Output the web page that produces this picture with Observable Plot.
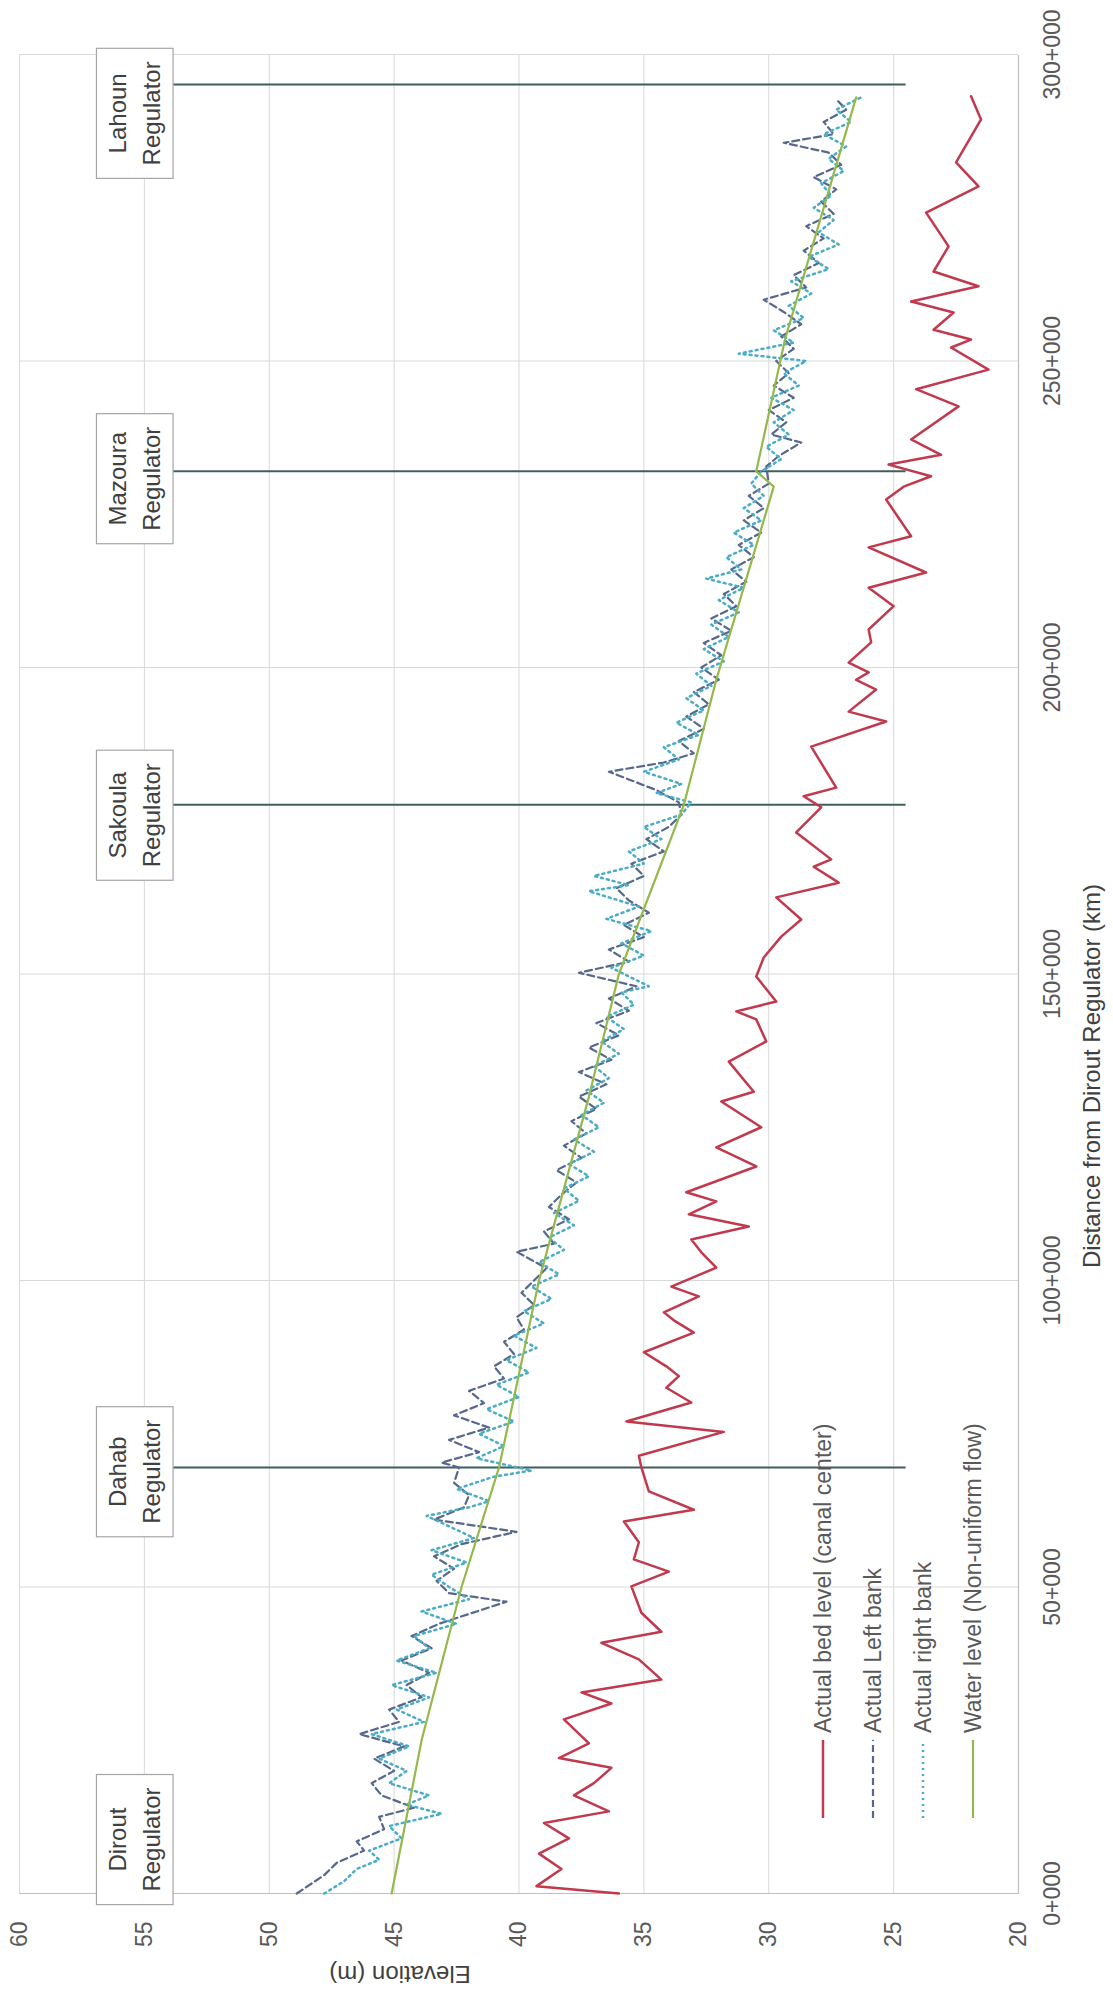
<!DOCTYPE html>
<html><head><meta charset="utf-8">
<script src="https://cdn.jsdelivr.net/npm/d3@7"></script>
<script src="https://cdn.jsdelivr.net/npm/@observablehq/plot@0.6"></script>
<style>
html,body{margin:0;padding:0;background:#fff;}
#wrap{position:relative;width:1113px;height:2002px;overflow:hidden;background:#fff;}
#wrap svg{position:absolute;left:0;top:0;max-width:none !important;width:2002px !important;height:1113px !important;transform-origin:0 0;transform:translate(0px,2002px) rotate(-90deg);}
</style></head><body><div id="wrap"></div>
<script>
// ---------- data ----------
const xTicks = [0, 50, 100, 150, 200, 250, 300];           // km
const yTicks = [20, 25, 30, 35, 40, 45, 50, 55, 60];        // m
const xTitle = "Distance from Dirout Regulator (km)";
const yTitle = "Elevation (m)";
const seriesNames = ["Actual bed level (canal center)", "Actual Left bank", "Actual right bank", "Water level (Non-uniform flow)"];

const regNames = ["Dirout", "Dahab", "Sakoula", "Mazoura", "Lahoun"];
const regKm = [0, 69.5, 177.6, 232, 295.1];
const regLabelKm = [8.8, 68.8, 175.9, 230.8, 290.4];

const bedKm = [0,1.2,4,6.5,9,11.5,13.4,16,18,20.5,22.1,24.5,28.4,31,32.8,34.9,38.2,40.9,42.7,45.8,50.1,52.5,54.5,57.3,60.7,62.6,65.6,69.5,71.4,75.3,77.0,80.1,82.5,84.4,86.0,88.3,91.5,93.5,94.8,97.4,99.0,102.1,104.6,106.7,108.8,110.8,112.9,114.4,118.6,121.7,125.0,129.2,130.8,135.7,139.0,142.6,143.9,145.5,149.6,152.7,156.1,158.9,162.5,164.9,167.5,168.7,173.1,177.2,179.0,180.4,187.1,191.2,192.8,196.4,198.0,199.2,200.8,204.1,206.2,210.0,213.0,215.5,219.6,221.4,227.4,229.5,231.2,233.1,234.7,237.2,242.6,245.4,248.6,252.2,253.5,255.1,257.9,259.7,262.2,264.6,268.7,274.2,278.5,282.4,289.4,293.2];
const bedElev = [36.0,39.3,38.3,39.2,38.0,39.0,36.4,37.8,37.0,36.3,38.4,37.2,38.2,36.3,37.5,34.3,35.2,36.7,34.3,35.1,35.5,34.0,35.4,35.2,35.8,33.0,34.8,35.1,35.2,31.8,35.7,33.1,34.1,33.6,34.1,35.0,33.0,33.8,34.2,32.8,33.9,32.1,32.7,33.1,30.8,33.2,32.1,33.3,30.5,32.1,30.3,31.9,30.6,31.6,30.1,30.5,31.3,29.7,30.5,30.2,29.5,28.7,29.7,27.2,28.2,27.5,28.9,27.9,28.6,27.3,28.3,25.3,26.8,25.7,26.5,26.0,26.8,25.9,26.0,25.0,26.0,23.7,26.0,24.3,25.3,24.6,23.5,25.2,23.1,24.3,22.4,24.1,21.2,22.7,21.9,23.4,22.6,24.3,21.6,23.4,22.8,23.7,21.6,22.5,21.5,21.9];

const leftKm = [0,3,5,7,8.5,10.5,12.5,14,16,18,20,22,24,26,28,30,32,34,36,38,40,42,44,47.6,49,51,53,55,57,59,61,63,65,67,69.5,70.3,72,74,76,78,80,82,84,86,88,90,92,94,96,98,100,102,104.7,106,108,110,112,114,116,118,120,122,124,126,128,130,132,134,136,138,140,142,144,146,148,150.2,152,154,156,158,160,162,164,166,168,170,172,174,176,178,180,183,184.5,186,188,190,192,194,196,198,200,202,204,206,208,210,212,214,216,218,220,222,224,226,228,230,232.8,234.5,236.7,238,240,242,244,246,248,250,252,254,256,258,260,262,264,266,268,270,272,274,276,278,280,282,284,285.6,287,289,291,292.7];
const leftElev = [48.9,47.8,47.3,46.2,46.5,45.4,45.6,44.2,45.5,45.9,45.0,45.8,44.6,46.4,44.8,45.2,43.9,44.5,43.6,44.7,43.5,44.3,43.2,40.5,42.8,43.3,42.6,43.4,42.3,40.1,43.4,42.2,42.0,42.6,42.4,43.1,41.6,42.8,41.2,42.6,41.4,42.0,40.6,41.0,40.2,40.6,39.8,40.1,39.4,39.9,39.4,38.9,40.1,38.6,39.0,38.0,38.8,38.3,37.7,38.5,37.5,38.2,37.3,37.9,36.9,37.6,36.5,37.6,36.3,37.2,36.0,36.9,35.6,36.4,35.3,37.6,35.6,36.4,35.0,35.8,34.8,35.6,36.1,35.0,35.5,34.2,34.9,34.0,33.5,33.6,34.5,36.4,34.2,33.0,33.6,32.6,33.3,32.4,33.0,32.0,32.7,31.9,32.6,31.5,32.3,31.3,31.8,30.9,31.5,30.6,31.2,30.3,31.0,30.2,30.8,30.0,30.1,29.6,28.7,29.9,29.3,30.0,29.0,29.8,29.2,29.7,29.0,29.5,28.7,29.4,30.2,28.5,29.0,28.0,28.6,27.8,28.5,27.4,27.9,27.3,28.2,27.1,27.6,29.4,27.4,27.8,26.9,27.3];

const rightKm = [0,2,4,5.5,7,9,11,13,14.5,16,18,20,22,24,26,28,30,32,34,36,38,40,42,44,46,48,50,52,54,56,58,61.6,63,64,66,68,69,71,73,75,77,79,81,83,85,87,89,91,93,95,97,99,101,103,105,107,109,111,113,115,117,119,121,123,125,127,129,131,133,135,137,139,141,143,145,147,148,151,153,155,157,159,161,163.5,164.5,166,168,170,172,174,176,178,179.5,181,183,185,187,189,191,193,195,197,199,201,203,205,207,209,211,213,214.5,216,218,220,222,224,226,228,230,232,234,236,238,240,242,244,246,248,250,251.2,253,255,257,259,261,263,265,267,269,271,273,275,277,279,281,283,285,287,289,291,293];
const rightElev = [47.8,47.0,46.5,45.6,46.0,44.7,45.2,43.1,44.5,43.6,45.2,44.5,45.6,44.4,45.9,43.8,44.9,43.6,45.1,43.3,44.9,43.6,44.2,42.5,43.9,42.0,42.8,43.5,42.1,43.5,41.8,43.7,42.0,41.2,42.5,41.0,39.5,41.7,40.6,41.6,40.2,41.3,40.0,40.9,39.6,40.5,39.3,40.2,39.0,39.8,38.7,39.5,38.4,39.2,38.2,38.8,37.8,38.6,37.6,38.2,37.2,38.0,37.0,37.8,36.8,37.5,36.6,37.3,36.4,37.0,36.0,36.7,35.8,36.5,35.4,35.9,34.8,36.3,35.0,35.9,34.7,36.5,35.2,37.2,35.6,37.0,35.0,35.6,34.3,35.0,33.5,33.1,34.5,33.5,35.0,33.6,34.2,32.8,33.7,32.6,33.3,32.3,32.9,31.8,32.6,31.6,32.3,31.2,32.0,31.0,32.5,31.1,31.7,30.6,31.4,30.3,31.0,30.2,30.7,30.3,29.5,30.1,29.2,29.8,29.0,29.9,28.8,29.4,28.5,31.2,29.0,29.8,28.6,29.2,28.3,29.1,27.6,28.4,27.2,28.0,27.4,28.2,27.5,27.9,27.0,27.6,26.9,27.8,26.7,27.3,26.3];

const waterKm = [0, 25, 50, 69.5, 100, 130, 150, 177.6, 198, 229.5, 232, 253.5, 293];
const waterElev = [45.1, 43.9, 42.3, 40.8, 39.2, 37.2, 36.0, 33.4, 32.1, 29.8, 30.5, 29.35, 26.5];

// ---------- styles ----------
const FONT = "'Liberation Sans', Arial, sans-serif";
const colors = ["#c0394d", "#56688c", "#4bacc6", "#94b84a"];
const widths = [2.5, 2.2, 2.5, 2.2];
const dashes = [null, "7,4", "2,4", null];

const toRows = (ks, vs) => ks.map((k, i) => ({km: k, elev: vs[i]}));
const series = [toRows(bedKm, bedElev), toRows(leftKm, leftElev), toRows(rightKm, rightElev), toRows(waterKm, waterElev)];
const regs = regNames.map((n, i) => ({name: n, km: regKm[i], labelKm: regLabelKm[i], text: n + "\nRegulator"}));

const chart = Plot.plot({
  width: 2002,
  height: 1113,
  marginLeft: 108,
  marginRight: 55,
  marginTop: 19,
  marginBottom: 95,
  style: {fontFamily: FONT, fontSize: "23px", color: "#595959", background: "#ffffff"},
  x: {domain: [0, 300], ticks: xTicks, tickFormat: d => d + "+000", tickSize: 0, tickPadding: 25, label: null},
  y: {domain: [20, 60], ticks: yTicks, tickSize: 0, tickPadding: 28, label: null},
  marks: [
    Plot.ruleX(xTicks, {stroke: "#d9d9d9", strokeWidth: 1}),
    Plot.ruleY(yTicks, {stroke: "#d9d9d9", strokeWidth: 1}),
    Plot.ruleX([0], {stroke: "#bfbfbf", strokeWidth: 1.2}),
    Plot.ruleY([20], {stroke: "#bfbfbf", strokeWidth: 1.2}),
    Plot.ruleX(regs.filter(d => d.km > 0), {x: "km", y1: 24.5, y2: 56, stroke: "#3f5f5e", strokeWidth: 2}),
    ...series.map((s, i) => Plot.line(s, {x: "km", y: "elev", stroke: colors[i], strokeWidth: widths[i], strokeDasharray: dashes[i] || undefined, strokeLinejoin: "round", curve: "linear"})),
    Plot.text(regs, {x: "labelKm", frameAnchor: "top", dy: 113, text: "text", lineAnchor: "middle", lineHeight: 1.4, fontSize: 24, fill: "#404040", ariaDescription: "regulator-label"})
  ]
});

chart.style.maxWidth = "none";
chart.style.width = "2002px";
chart.style.height = "1113px";
document.getElementById("wrap").appendChild(chart);

// boxes behind regulator labels
let regGroup = chart.querySelector('g[aria-description="regulator-label"]') || chart.querySelector('g[aria-label="text"]');
if (regGroup) {
  regGroup.querySelectorAll("text").forEach(t => {
    const b = t.getBBox();
    const r = document.createElementNS("http://www.w3.org/2000/svg", "rect");
    const padX = 13, padY = 8;
    r.setAttribute("x", b.x - padX);
    r.setAttribute("y", b.y - padY);
    r.setAttribute("width", b.width + 2 * padX);
    r.setAttribute("height", b.height + 2 * padY);
    r.setAttribute("fill", "#ffffff");
    r.setAttribute("stroke", "#a6a6a6");
    r.setAttribute("stroke-width", "1.2");
    const tr = t.getAttribute("transform");
    if (tr) r.setAttribute("transform", tr);
    t.parentNode.insertBefore(r, t);
  });
}

const svg = d3.select(chart);
// legend
const lg = svg.append("g").attr("font-family", FONT).attr("font-size", 23).attr("fill", "#595959").attr("text-anchor", "start");
seriesNames.forEach((name, i) => {
  const y = 823 + i * 50;
  const ln = lg.append("line").attr("x1", 184).attr("x2", 262).attr("y1", y).attr("y2", y)
    .attr("stroke", colors[i]).attr("stroke-width", widths[i]);
  if (dashes[i]) ln.attr("stroke-dasharray", dashes[i]);
  lg.append("text").attr("x", 269).attr("y", y).attr("dy", "0.35em").text(name);
});
// axis titles
svg.append("text").attr("x", 926).attr("y", 1100).attr("text-anchor", "middle")
  .attr("font-family", FONT).attr("font-size", 24).attr("fill", "#404040").text(xTitle);
svg.append("text").attr("transform", "translate(36,400) rotate(-90)").attr("text-anchor", "middle")
  .attr("font-family", FONT).attr("font-size", 24).attr("fill", "#404040").text(yTitle);
</script></body></html>
